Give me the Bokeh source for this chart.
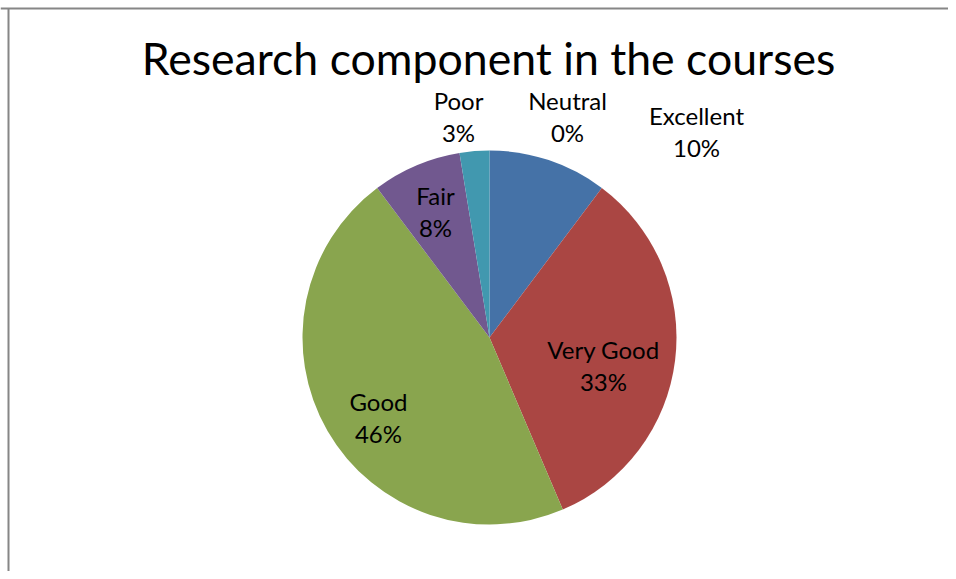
import math
from bokeh.plotting import figure
from bokeh.models import Range1d, ColumnDataSource
from bokeh.core.properties import value
from bokeh.embed import file_html
from bokeh.resources import INLINE

# ---- data ----
categories = ["Excellent", "Very Good", "Good", "Fair", "Poor", "Neutral"]
counts = [4, 13, 18, 3, 1, 0]
colors = ["#4572A7", "#AA4643", "#89A54E", "#71588F", "#4198AF", "#DB843D"]
title_text = "Research component in the courses"

# ---- layout (pixel positions inside the figure) ----
W, H = 948, 571
cx, cy, r = 489, 234, 187
label_x = [696, 603, 378, 435, 458, 567]
label_y = [440, 206, 154, 360, 455, 455]
FONT = "Lato"

total = sum(counts)
starts, ends, labels = [], [], []
cum = 0.0
for c, name in zip(counts, categories):
    a0 = math.pi / 2 - 2 * math.pi * cum / total
    cum += c
    a1 = math.pi / 2 - 2 * math.pi * cum / total
    starts.append(a0)
    ends.append(a1)
    labels.append(f"{name}\n{round(100 * c / total)}%")

keep = [i for i, c in enumerate(counts) if c > 0]
wedge_src = ColumnDataSource(dict(cat=[categories[i] for i in keep],
                                  start=[starts[i] for i in keep],
                                  end=[ends[i] for i in keep],
                                  color=[colors[i] for i in keep]))
label_src = ColumnDataSource(dict(lx=label_x, ly=label_y, label=labels))

p = figure(width=W, height=H, output_backend="svg", toolbar_location=None,
           x_range=Range1d(0, W), y_range=Range1d(0, H), min_border=0,
           background_fill_color="white", border_fill_color="white")
p.axis.visible = False
p.grid.visible = False
p.outline_line_color = None

# chart frame (top and left edges visible in the window)
p.segment(x0=[0, 8], y0=[H - 8, 0], x1=[W, 8], y1=[H - 8, H - 8],
          line_color="#868686", line_width=2)

p.wedge(x=cx, y=cy, radius=r, start_angle="start", end_angle="end",
        direction="clock", fill_color="color", line_color=None, source=wedge_src)

p.text(x="lx", y="ly", text="label", source=label_src, text_align="center",
       text_baseline="middle", text_font=value(FONT), text_font_size="24px",
       text_line_height=1.1, text_color="black")

p.text(x=[488], y=[514], text=[title_text], text_align="center",
       text_baseline="middle", text_font=value(FONT), text_font_size="44.6px",
       text_color="black")

open("out.html", "w").write(file_html(p, INLINE))
